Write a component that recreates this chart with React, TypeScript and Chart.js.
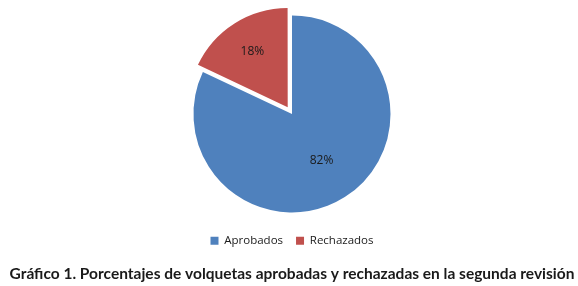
import React, { useEffect, useRef } from "react";
import { Chart, registerables } from "chart.js";

Chart.register(...registerables);

const categories = ["Aprobados", "Rechazados"];
const values = [82, 18];
const valueLabels = ["82%", "18%"];
const caption = "Gráfico 1. Porcentajes de volquetas aprobadas y rechazadas en la segunda revisión";

const labelPlugin = {
  id: "sliceLabels",
  afterDatasetsDraw(chart: any) {
    const ctx = chart.ctx;
    const meta = chart.getDatasetMeta(0);
    const fr = [0.56, 0.67];
    ctx.save();
    ctx.font = "12px 'Open Sans', sans-serif";
    ctx.fillStyle = "#1a1a1a";
    ctx.textAlign = "center";
    ctx.textBaseline = "middle";
    meta.data.forEach((el: any, i: number) => {
      const p = el.getProps(["x", "y", "startAngle", "endAngle", "outerRadius"], true);
      const mid = (p.startAngle + p.endAngle) / 2;
      const off = ((el.options && el.options.offset) || 0) / 4;
      const r = p.outerRadius * fr[i] + off;
      ctx.fillText(valueLabels[i], p.x + Math.cos(mid) * r, p.y + Math.sin(mid) * r);
    });
    ctx.restore();
  },
};

export default function App() {
  const ref = useRef<HTMLCanvasElement>(null);
  useEffect(() => {
    document.body.style.margin = "0";
    const chart = new Chart(ref.current!, {
      type: "pie",
      data: {
        labels: categories,
        datasets: [
          {
            data: values,
            backgroundColor: ["#4F81BD", "#C0504D"],
            borderWidth: 0,
            offset: [0, 32],
          },
        ],
      },
      options: {
        responsive: false,
        animation: false,
        radius: 98.5,
        layout: { padding: { top: 6, left: 6, right: 0, bottom: 0 } },
        plugins: {
          tooltip: { enabled: false },
          legend: {
            position: "bottom",
            labels: {
              boxWidth: 8,
              boxHeight: 8,
              padding: 13,
              color: "#1a1a1a",
              font: { family: "'Open Sans', sans-serif", size: 11.5 },
            },
          },
          title: {
            display: true,
            position: "bottom",
            text: caption,
            color: "#1a1a1a",
            font: { family: "Lato, sans-serif", size: 15.5, weight: "bold" },
            padding: { top: 8, bottom: 3 },
          },
        },
      },
      plugins: [labelPlugin],
    });
    return () => chart.destroy();
  }, []);
  return (
    <div style={{ position: "absolute", left: 0, top: 0, width: 578, height: 286, background: "#fff" }}>
      <canvas ref={ref} width={578} height={286} style={{ width: 578, height: 286 }} />
    </div>
  );
}
